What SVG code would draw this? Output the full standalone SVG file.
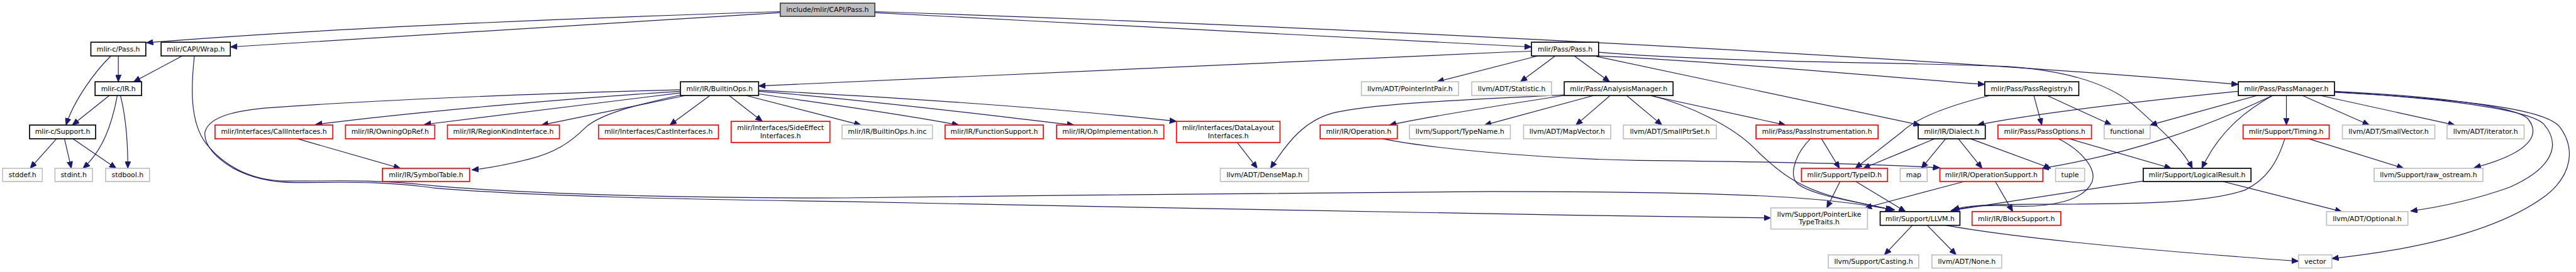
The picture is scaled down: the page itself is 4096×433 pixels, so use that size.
<svg xmlns="http://www.w3.org/2000/svg" width="4096" height="433" viewBox="0 0 4096 433">
<defs>
<style>
.e{fill:none;stroke:#191970;stroke-width:1.4;marker-end:url(#a)}
.node rect{fill:#fff;stroke-width:2}
.nb rect{stroke:#000}
.nr rect{stroke:#f00}
.ng rect{stroke:#bfbfbf}
.nroot rect{fill:#bfbfbf;stroke:#404040}
text{font-family:"DejaVu Sans","Liberation Sans",sans-serif;font-size:13px;text-anchor:middle;fill:#000}
</style>
<marker id="a" viewBox="0 0 13 11" refX="13" refY="5.5" markerWidth="13" markerHeight="11" markerUnits="userSpaceOnUse" orient="auto"><path d="M0,0 L13,5.5 L0,11 Z" fill="#191970" stroke="#191970" stroke-width="1"/></marker>
</defs>
<rect width="4096" height="433" fill="#fff"/>
<g transform="scale(0.84)">
<g id="edges">
<path class="e" d="M1477,22 C1000,37 600,55 277,81"/>
<path class="e" d="M1477,24 L436,89"/>
<path class="e" d="M1656,24 C2100,47 2600,75 2899,89"/>
<path class="e" d="M1656,22 C2500,50 3600,105 4237,160"/>
<path class="e" d="M224,106 L224,155"/>
<path class="e" d="M210,106 C180,135 140,190 125,237"/>
<path class="e" d="M345,106 L253,155"/>
<path class="e" d="M368,106 C362,160 358,230 390,272 C420,310 470,342 540,343 C620,344 700,338 820,352 C1000,368 1300,376 1600,375 C2000,370 2500,365 2820,363 C3100,363 3300,368 3400,375 C3480,380 3540,390 3587,398"/>
<path class="e" d="M1288,170 C1000,178 700,190 500,205 C430,212 395,225 388,250 C385,275 410,300 440,318 C480,340 520,346 560,346 C640,346 720,342 820,356 C1000,372 1300,378 1600,382 C2000,390 2500,400 2820,405 C3000,408 3200,412 3352,413"/>
<path class="e" d="M207,181 L137,237"/>
<path class="e" d="M222,181 C212,235 195,285 157,319"/>
<path class="e" d="M228,181 C238,220 242,270 242,319"/>
<path class="e" d="M107,263 L57,319"/>
<path class="e" d="M122,263 L135,319"/>
<path class="e" d="M138,263 L220,319"/>
<path class="e" d="M2899,97 C2400,115 1900,140 1436,163"/>
<path class="e" d="M2911,106 L2720,155"/>
<path class="e" d="M2944,106 L2878,155"/>
<path class="e" d="M2980,106 L3047,155"/>
<path class="e" d="M3026,99 C3250,118 3600,118 3800,126 C3930,135 4000,165 4040,200 C4090,245 4130,280 4150,319"/>
<path class="e" d="M3024,106 C3200,113 3500,140 3757,160"/>
<path class="e" d="M3022,107 L3635,237"/>
<path class="e" d="M2961,180 C2800,188 2600,195 2520,215 C2470,230 2440,265 2405,319"/>
<path class="e" d="M2961,181 C2850,198 2700,222 2630,237"/>
<path class="e" d="M3017,181 L2810,237"/>
<path class="e" d="M3048,181 L2983,237"/>
<path class="e" d="M3079,181 L3146,237"/>
<path class="e" d="M3123,181 L3380,237"/>
<path class="e" d="M3125,181 C3200,200 3280,240 3320,280 C3360,320 3400,355 3480,375 C3520,385 3550,390 3582,398"/>
<path class="e" d="M2617,263 C2700,280 2900,300 3100,304 C3300,306 3550,310 3672,318"/>
<path class="e" d="M1288,173 C1100,185 800,210 597,236"/>
<path class="e" d="M1288,176 L803,236"/>
<path class="e" d="M1298,181 L1025,237"/>
<path class="e" d="M1288,180 C1200,200 1140,215 1110,240 C1080,270 1050,290 1000,302 C960,312 930,318 893,322"/>
<path class="e" d="M1344,181 L1268,237"/>
<path class="e" d="M1380,181 L1443,230"/>
<path class="e" d="M1412,181 L1630,237"/>
<path class="e" d="M1436,178 C1550,195 1700,215 1815,237"/>
<path class="e" d="M1436,173 C1650,190 1900,222 2033,237"/>
<path class="e" d="M1436,171 C1700,185 2000,205 2227,230"/>
<path class="e" d="M563,263 L758,319"/>
<path class="e" d="M2342,270 L2380,319"/>
<path class="e" d="M3767,181 C3690,200 3630,222 3600,250 L3512,319"/>
<path class="e" d="M3850,181 L3865,237"/>
<path class="e" d="M3875,181 L3997,237"/>
<path class="e" d="M3662,263 L3527,319"/>
<path class="e" d="M3683,263 L3637,319"/>
<path class="e" d="M3707,263 L3752,319"/>
<path class="e" d="M3730,263 L3882,319"/>
<path class="e" d="M4237,173 C4050,192 3850,215 3743,237"/>
<path class="e" d="M4273,181 L4070,237"/>
<path class="e" d="M4302,181 C4230,215 4170,240 4100,262 C4030,285 3950,305 3865,319"/>
<path class="e" d="M4302,181 C4250,210 4200,250 4168,319"/>
<path class="e" d="M4328,181 L4328,237"/>
<path class="e" d="M4358,181 L4485,237"/>
<path class="e" d="M4392,181 L4647,237"/>
<path class="e" d="M4419,173 C4600,182 4760,200 4785,225 C4810,255 4790,290 4683,318"/>
<path class="e" d="M4419,174 C4650,188 4790,210 4815,235 C4850,275 4830,320 4750,355 C4680,380 4620,392 4563,400"/>
<path class="e" d="M4419,175 C4700,190 4820,210 4845,240 C4875,280 4870,330 4820,370 C4740,430 4600,470 4414,490"/>
<path class="e" d="M3917,263 L4110,319"/>
<path class="e" d="M3897,263 C3940,285 3970,320 3960,345 C3945,380 3880,395 3800,390 C3750,388 3720,392 3693,400"/>
<path class="e" d="M4057,343 L3693,399"/>
<path class="e" d="M4325,263 C4310,310 4290,340 4250,360 C4180,385 4050,387 3850,387 C3760,387 3720,390 3696,398"/>
<path class="e" d="M4370,263 L4550,319"/>
<path class="e" d="M4208,344 L4433,401"/>
<path class="e" d="M3427,263 C3400,290 3385,330 3402,348 C3430,370 3500,380 3585,398"/>
<path class="e" d="M3448,263 L3482,319"/>
<path class="e" d="M3483,344 L3458,394"/>
<path class="e" d="M3513,344 L3607,401"/>
<path class="e" d="M3718,344 L3530,394"/>
<path class="e" d="M3777,344 L3810,401"/>
<path class="e" d="M3620,427 L3567,483"/>
<path class="e" d="M3648,427 L3703,483"/>
<path class="e" d="M3683,427 C3800,448 4000,470 4351,495"/>
</g>
<g id="n_root" class="node nroot"><rect x="1477" y="6" width="179" height="25"/><text x="1566.5" y="23">include/mlir/CAPI/Pass.h</text></g>
<g id="n_cpass" class="node nb"><rect x="172" y="80" width="104" height="26"/><text x="224" y="97.5">mlir-c/Pass.h</text></g>
<g id="n_wrap" class="node nb"><rect x="305" y="80" width="131" height="26"/><text x="370.5" y="97.5">mlir/CAPI/Wrap.h</text></g>
<g id="n_pass" class="node nb"><rect x="2899" y="80" width="127" height="26"/><text x="2962.5" y="97.5">mlir/Pass/Pass.h</text></g>
<g id="n_cir" class="node nb"><rect x="180" y="155" width="88" height="26"/><text x="224" y="172.5">mlir-c/IR.h</text></g>
<g id="n_bops" class="node nb"><rect x="1288" y="155" width="148" height="26"/><text x="1362" y="172.5">mlir/IR/BuiltinOps.h</text></g>
<g id="n_pip" class="node ng"><rect x="2577" y="155" width="184" height="26"/><text x="2669" y="172.5">llvm/ADT/PointerIntPair.h</text></g>
<g id="n_stat" class="node ng"><rect x="2786" y="155" width="151" height="26"/><text x="2861.5" y="172.5">llvm/ADT/Statistic.h</text></g>
<g id="n_am" class="node nb"><rect x="2961" y="155" width="206" height="26"/><text x="3064" y="172.5">mlir/Pass/AnalysisManager.h</text></g>
<g id="n_preg" class="node nb"><rect x="3757" y="155" width="178" height="26"/><text x="3846" y="172.5">mlir/Pass/PassRegistry.h</text></g>
<g id="n_pm" class="node nb"><rect x="4237" y="155" width="182" height="26"/><text x="4328" y="172.5">mlir/Pass/PassManager.h</text></g>
<g id="n_csup" class="node nb"><rect x="56" y="237" width="125" height="26"/><text x="118.5" y="254">mlir-c/Support.h</text></g>
<g id="n_call" class="node nr"><rect x="407" y="237" width="223" height="26"/><text x="518.5" y="254">mlir/Interfaces/CallInterfaces.h</text></g>
<g id="n_own" class="node nr"><rect x="654" y="237" width="169" height="26"/><text x="738.5" y="254">mlir/IR/OwningOpRef.h</text></g>
<g id="n_region" class="node nr"><rect x="847" y="237" width="212" height="26"/><text x="953" y="254">mlir/IR/RegionKindInterface.h</text></g>
<g id="n_cast" class="node nr"><rect x="1133" y="237" width="227" height="26"/><text x="1246.5" y="254">mlir/Interfaces/CastInterfaces.h</text></g>
<g id="n_side" class="node nr"><rect x="1384" y="230" width="187" height="40"/><text x="1477.5" y="246.5">mlir/Interfaces/SideEffect</text><text x="1477.5" y="261.5">Interfaces.h</text></g>
<g id="n_inc" class="node ng"><rect x="1594" y="237" width="171" height="26"/><text x="1679.5" y="254">mlir/IR/BuiltinOps.h.inc</text></g>
<g id="n_funcsup" class="node nr"><rect x="1789" y="237" width="186" height="26"/><text x="1882" y="254">mlir/IR/FunctionSupport.h</text></g>
<g id="n_opimpl" class="node nr"><rect x="2000" y="237" width="203" height="26"/><text x="2101.5" y="254">mlir/IR/OpImplementation.h</text></g>
<g id="n_dl" class="node nr"><rect x="2227" y="230" width="196" height="40"/><text x="2325" y="246.5">mlir/Interfaces/DataLayout</text><text x="2325" y="261.5">Interfaces.h</text></g>
<g id="n_op" class="node nr"><rect x="2499" y="237" width="146" height="26"/><text x="2572" y="254">mlir/IR/Operation.h</text></g>
<g id="n_tname" class="node ng"><rect x="2668" y="237" width="191" height="26"/><text x="2763.5" y="254">llvm/Support/TypeName.h</text></g>
<g id="n_mapvec" class="node ng"><rect x="2884" y="237" width="165" height="26"/><text x="2966.5" y="254">llvm/ADT/MapVector.h</text></g>
<g id="n_sps" class="node ng"><rect x="3073" y="237" width="176" height="26"/><text x="3161" y="254">llvm/ADT/SmallPtrSet.h</text></g>
<g id="n_pinst" class="node nr"><rect x="3324" y="237" width="231" height="26"/><text x="3439.5" y="254">mlir/Pass/PassInstrumentation.h</text></g>
<g id="n_dialect" class="node nb"><rect x="3631" y="237" width="127" height="26"/><text x="3694.5" y="254">mlir/IR/Dialect.h</text></g>
<g id="n_popt" class="node nr"><rect x="3782" y="237" width="177" height="26"/><text x="3870.5" y="254">mlir/Pass/PassOptions.h</text></g>
<g id="n_functional" class="node ng"><rect x="3983" y="237" width="87" height="26"/><text x="4026.5" y="254">functional</text></g>
<g id="n_timing" class="node nr"><rect x="4246" y="237" width="163" height="26"/><text x="4327.5" y="254">mlir/Support/Timing.h</text></g>
<g id="n_svec" class="node ng"><rect x="4434" y="237" width="175" height="26"/><text x="4521.5" y="254">llvm/ADT/SmallVector.h</text></g>
<g id="n_iter" class="node ng"><rect x="4632" y="237" width="146" height="26"/><text x="4705" y="254">llvm/ADT/iterator.h</text></g>
<g id="n_stddef" class="node ng"><rect x="5" y="319" width="75" height="25"/><text x="42.5" y="336">stddef.h</text></g>
<g id="n_stdint" class="node ng"><rect x="104" y="319" width="71" height="25"/><text x="139.5" y="336">stdint.h</text></g>
<g id="n_stdbool" class="node ng"><rect x="200" y="319" width="83" height="25"/><text x="241.5" y="336">stdbool.h</text></g>
<g id="n_symtab" class="node nr"><rect x="724" y="319" width="165" height="25"/><text x="806.5" y="336">mlir/IR/SymbolTable.h</text></g>
<g id="n_densemap" class="node ng"><rect x="2310" y="319" width="167" height="25"/><text x="2393.5" y="336">llvm/ADT/DenseMap.h</text></g>
<g id="n_typeid" class="node nr"><rect x="3410" y="319" width="163" height="25"/><text x="3491.5" y="336">mlir/Support/TypeID.h</text></g>
<g id="n_map" class="node ng"><rect x="3597" y="319" width="51" height="25"/><text x="3622.5" y="336">map</text></g>
<g id="n_opsup" class="node nr"><rect x="3672" y="319" width="195" height="25"/><text x="3769.5" y="336">mlir/IR/OperationSupport.h</text></g>
<g id="n_tuple" class="node ng"><rect x="3891" y="319" width="55" height="25"/><text x="3918.5" y="336">tuple</text></g>
<g id="n_logres" class="node nb"><rect x="4057" y="319" width="204" height="25"/><text x="4159" y="336">mlir/Support/LogicalResult.h</text></g>
<g id="n_rawos" class="node ng"><rect x="4494" y="319" width="206" height="25"/><text x="4597" y="336">llvm/Support/raw_ostream.h</text></g>
<g id="n_pltt" class="node ng"><rect x="3352" y="394" width="183" height="40"/><text x="3443.5" y="410.5">llvm/Support/PointerLike</text><text x="3443.5" y="425.5">TypeTraits.h</text></g>
<g id="n_llvm" class="node nb"><rect x="3559" y="401" width="151" height="26"/><text x="3634.5" y="418.5">mlir/Support/LLVM.h</text></g>
<g id="n_block" class="node nr"><rect x="3733" y="401" width="168" height="26"/><text x="3817" y="418.5">mlir/IR/BlockSupport.h</text></g>
<g id="n_optional" class="node ng"><rect x="4404" y="401" width="154" height="26"/><text x="4481" y="418.5">llvm/ADT/Optional.h</text></g>
<g id="n_casting" class="node ng"><rect x="3461" y="483" width="171" height="25"/><text x="3546.5" y="500">llvm/Support/Casting.h</text></g>
<g id="n_none" class="node ng"><rect x="3657" y="483" width="132" height="25"/><text x="3723" y="500">llvm/ADT/None.h</text></g>
<g id="n_vector" class="node ng"><rect x="4351" y="483" width="63" height="25"/><text x="4382.5" y="500">vector</text></g>
</g>
</svg>
